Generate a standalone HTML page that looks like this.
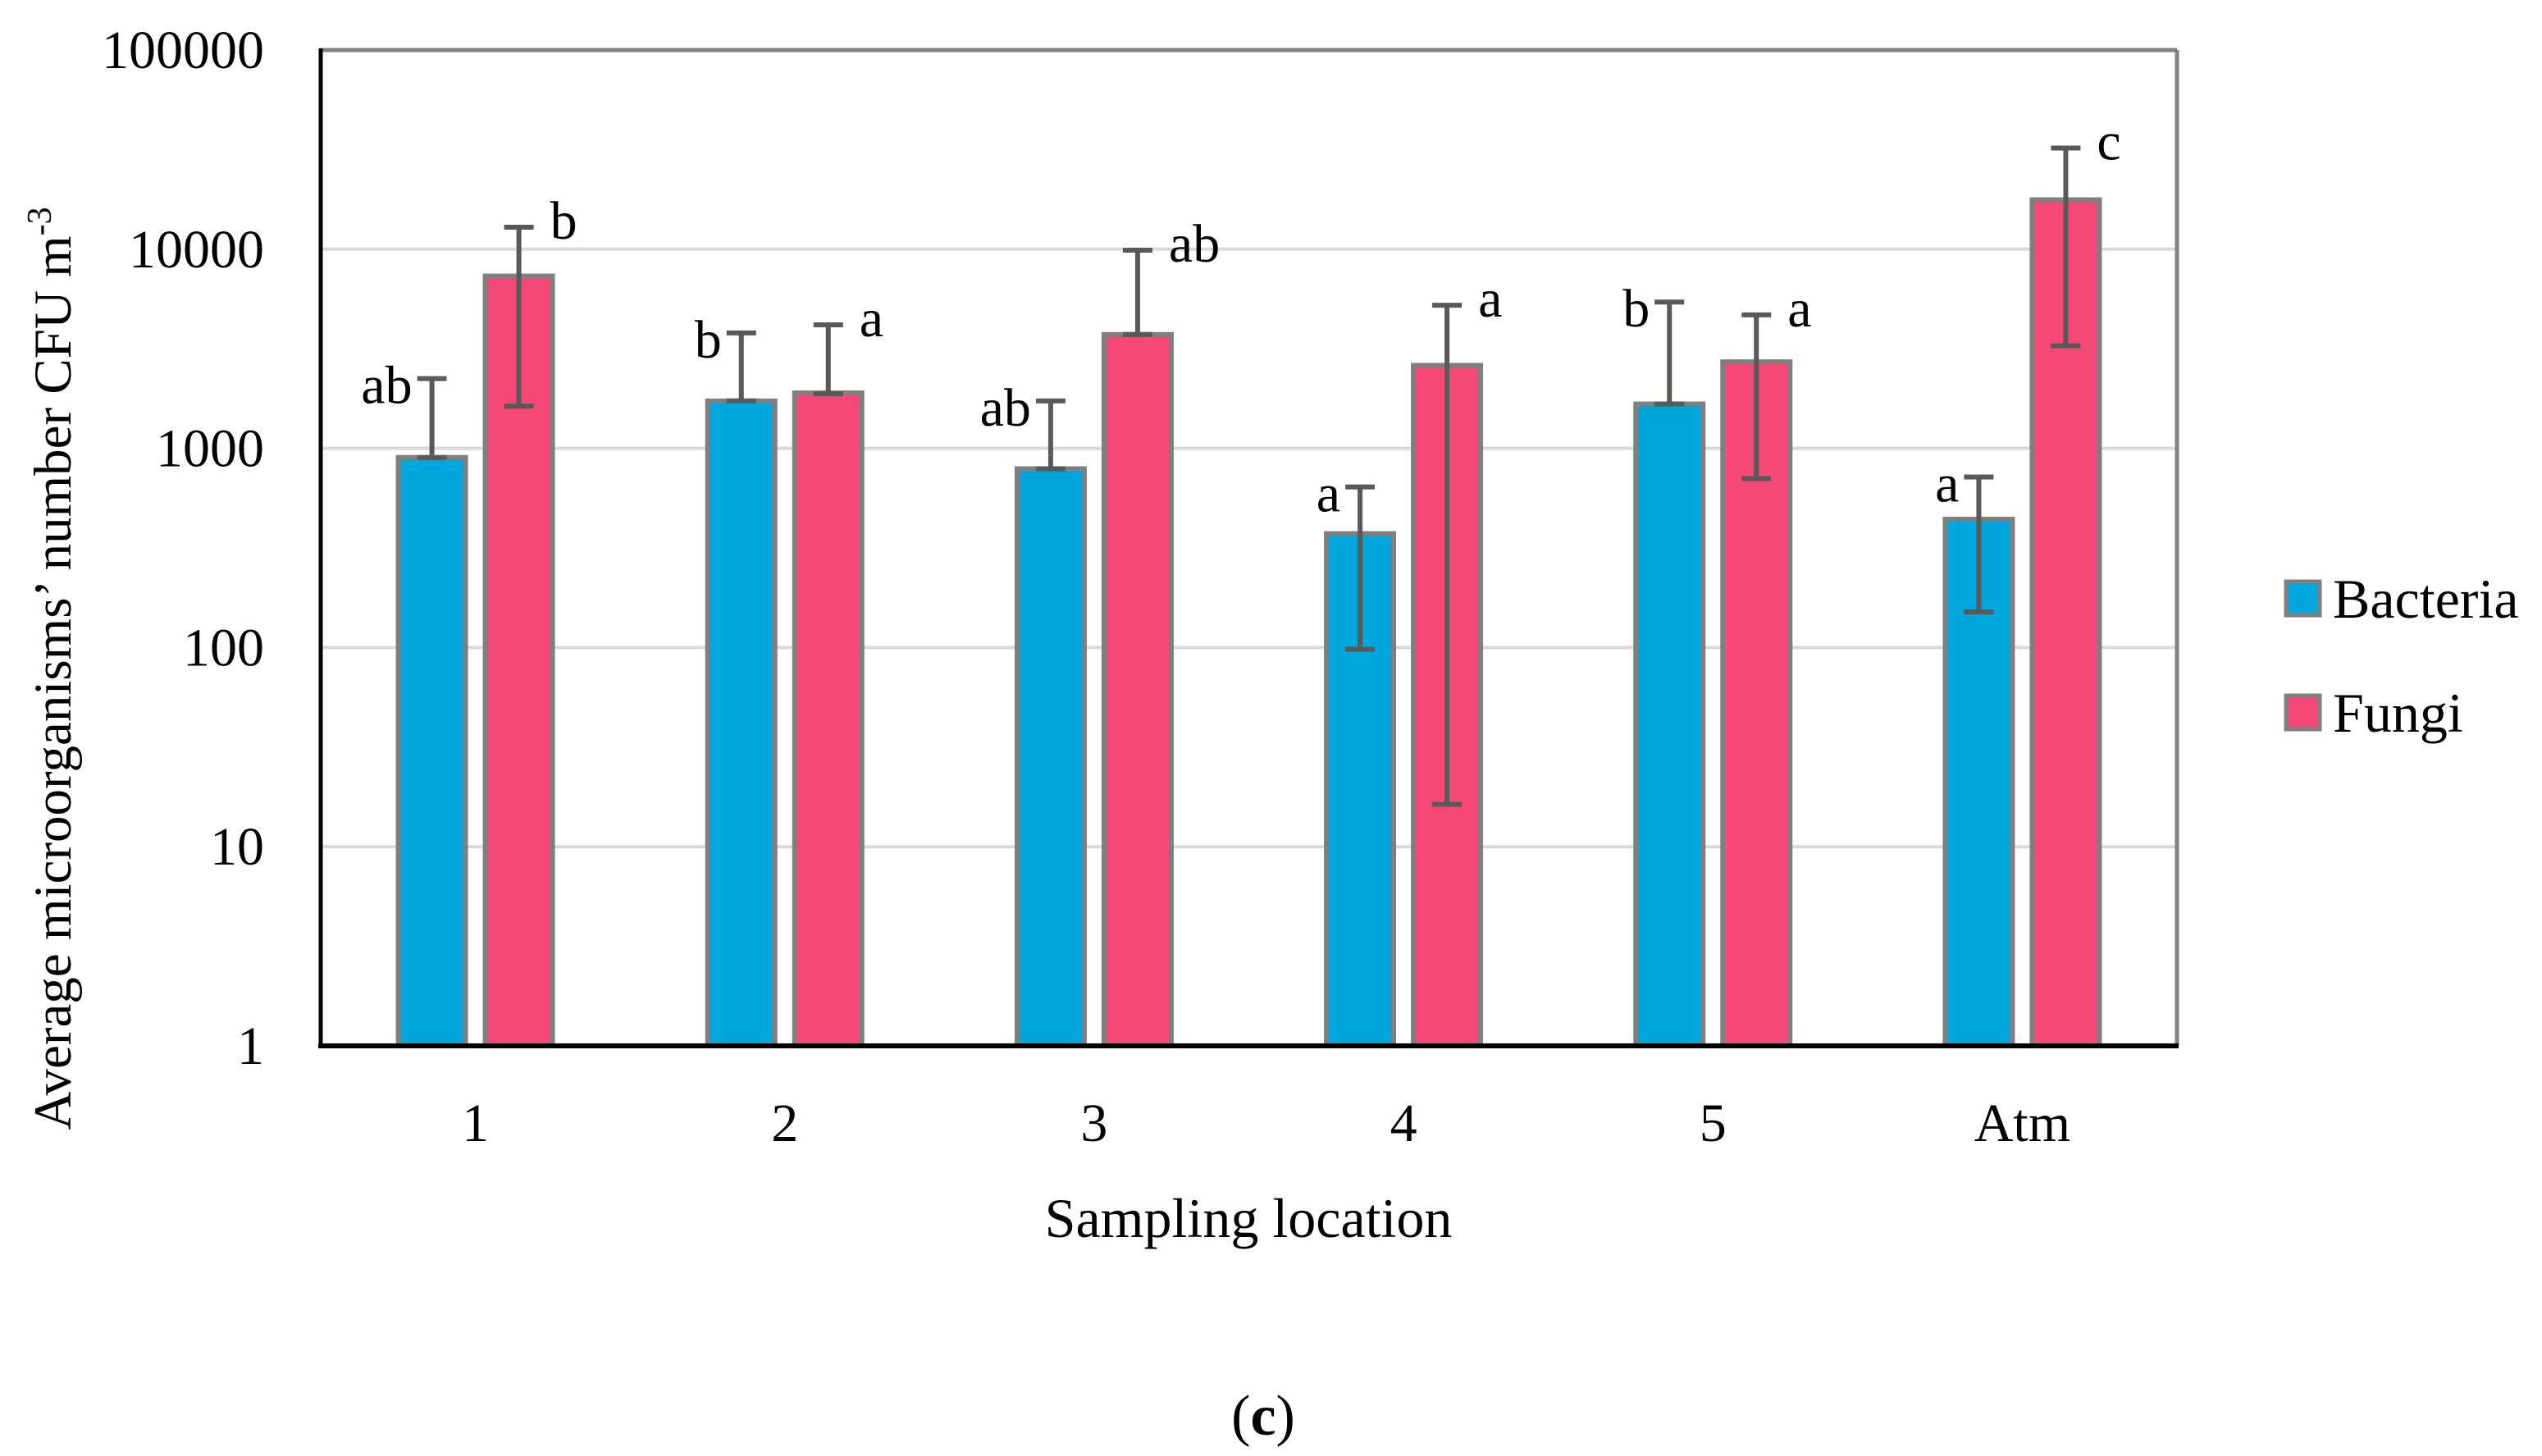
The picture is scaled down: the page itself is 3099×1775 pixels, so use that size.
<!DOCTYPE html>
<html><head><meta charset="utf-8"><style>html,body{margin:0;padding:0;background:#fff}svg{display:block}text{font-family:"Liberation Serif",serif;fill:#000}</style></head>
<body>
<svg id="chart" width="3099" height="1775" viewBox="0 0 3099 1775" xmlns="http://www.w3.org/2000/svg">
<g id="grid"></g><g id="bars"></g><g id="axes"></g><g id="labels"></g>
<text transform="translate(86,815) rotate(-90)" text-anchor="middle" font-size="65">Average microorganisms’ number CFU m<tspan dy="-24" font-size="42">-3</tspan></text>
<text x="1522" y="1508" text-anchor="middle" font-size="68">Sampling location</text>
<text x="1540" y="1749" text-anchor="middle" font-size="70">(<tspan font-weight="bold">c</tspan>)</text>
<g>
<rect x="2787" y="709" width="41" height="41" fill="#00a6dc" stroke="#7f7f7f" stroke-width="5"/>
<text x="2844" y="753" font-size="68">Bacteria</text>
<rect x="2787" y="848" width="41" height="41" fill="#f64876" stroke="#7f7f7f" stroke-width="5"/>
<text x="2844" y="892" font-size="68">Fungi</text>
</g>
</svg>
<script>
const categories = ["1","2","3","4","5","Atm"];
const bacteria = [900,1730,790,373,1670,441];
const bacteriaHi = [2240,3800,1730,640,5430,718];
const bacteriaLo = [900,1730,790,98,1670,151];
const bacteriaLetters = ["ab","b","ab","a","b","a"];
const fungi = [7330,1900,3730,2610,2720,17700];
const fungiHi = [12900,4170,9890,5230,4680,32200];
const fungiLo = [1630,1880,3730,16.3,705,3270];
const fungiLetters = ["b","a","ab","a","a","c"];
const yTicks = [1,10,100,1000,10000,100000];

const NS="http://www.w3.org/2000/svg";
const L=391,R=2654,T=61,B=1275;
const yMin=1,yMax=100000;
function y(v){return B-(Math.log10(v)-Math.log10(yMin))/(Math.log10(yMax)-Math.log10(yMin))*(B-T);}
function xc(i){return L+(R-L)/categories.length*(i+0.5);}
function mk(tag,attrs,parent){const e=document.createElementNS(NS,tag);for(const k in attrs)e.setAttribute(k,attrs[k]);parent.appendChild(e);return e;}
const grid=document.getElementById('grid'),bars=document.getElementById('bars'),axes=document.getElementById('axes'),labels=document.getElementById('labels');

yTicks.forEach(t=>{
  if(t!==yMin&&t!==yMax){
    const g=mk('line',{x1:L,x2:R,y1:y(t),y2:y(t),stroke:'#d9d9d9','stroke-width':4},grid);
    
    
  }
  const tx=mk('text',{x:322,y:y(t)+22,'text-anchor':'end','font-size':66},labels);
  tx.textContent=String(t);
  
  
});

const series=[
  {name:'bacteria',vals:bacteria,hi:bacteriaHi,lo:bacteriaLo,let:bacteriaLetters,off:-53,fill:'#00a6dc'},
  {name:'fungi',vals:fungi,hi:fungiHi,lo:fungiLo,let:fungiLetters,off:53,fill:'#f64876'}
];
const bw=82;
series.forEach(s=>{
  s.vals.forEach((v,i)=>{
    const cx=xc(i)+s.off;
    const r=mk('rect',{x:cx-bw/2,y:y(v),width:bw,height:B-y(v),fill:s.fill,stroke:'#7f7f7f','stroke-width':6},bars);
    
    
    const eg=mk('g',{stroke:'#595959','stroke-width':6},bars);
    
    
    mk('line',{x1:cx,x2:cx,y1:y(s.hi[i]),y2:y(s.lo[i])},eg);
    mk('line',{x1:cx-18,x2:cx+18,y1:y(s.hi[i]),y2:y(s.hi[i])},eg);
    mk('line',{x1:cx-18,x2:cx+18,y1:y(s.lo[i]),y2:y(s.lo[i])},eg);
    const lt=s.name==='bacteria'
      ? mk('text',{x:cx-24,y:y(s.hi[i])+30,'text-anchor':'end','font-size':66},labels)
      : mk('text',{x:cx+38,y:y(s.hi[i])+14,'text-anchor':'start','font-size':66},labels);
    lt.textContent=s.let[i];
    
    
  });
});

categories.forEach((c,i)=>{
  const t=mk('text',{x:xc(i),y:1391,'text-anchor':'middle','font-size':66},labels);
  t.textContent=c;
  
  
});

const top_=mk('line',{x1:L,x2:R,y1:T,y2:T,stroke:'#808080','stroke-width':5},axes);


const right_=mk('line',{x1:R,x2:R,y1:T,y2:B,stroke:'#808080','stroke-width':5},axes);


const yax=mk('line',{x1:L,x2:L,y1:T-2,y2:B+3,stroke:'#000','stroke-width':5},axes);


const xax=mk('line',{x1:L-3,x2:R+2,y1:B,y2:B,stroke:'#000','stroke-width':6},axes);


</script>
</body></html>
